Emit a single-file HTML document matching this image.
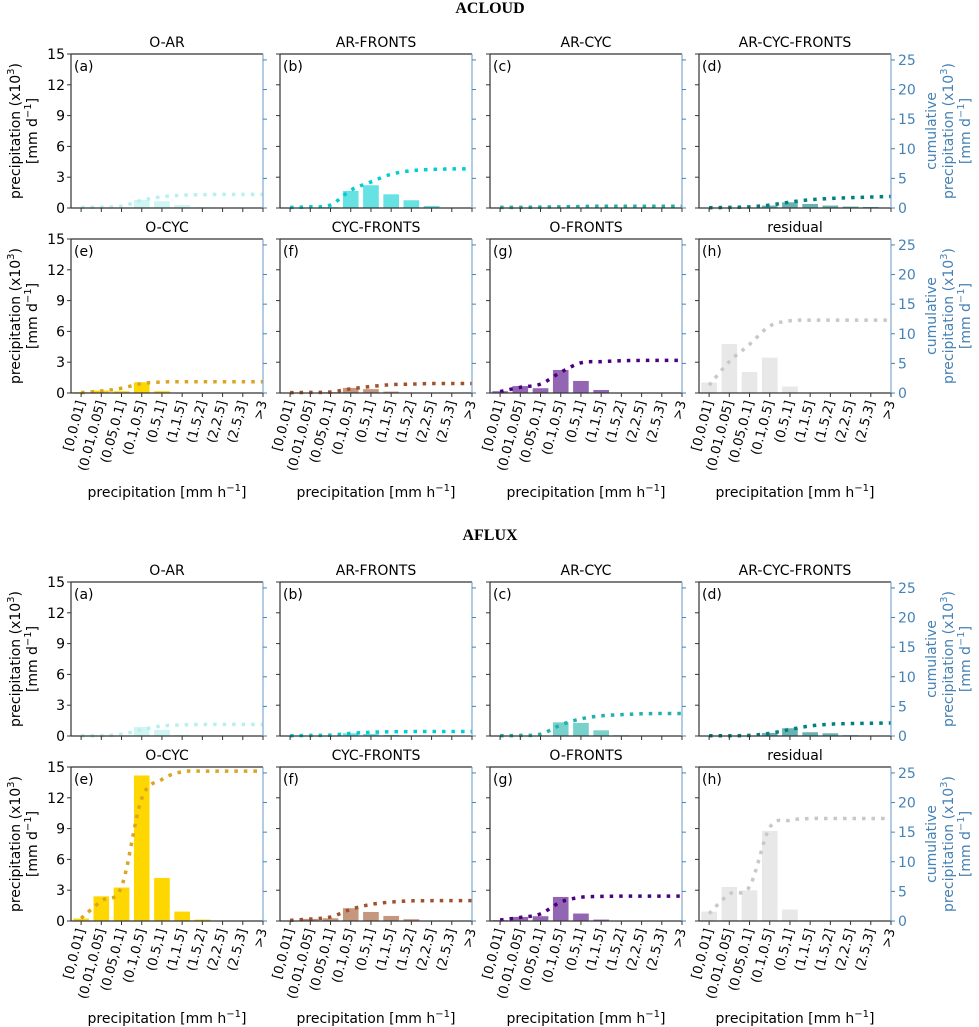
<!DOCTYPE html>
<html><head><meta charset="utf-8"><style>
body{margin:0;background:#fff;}
svg{display:block;font-family:"DejaVu Sans","Liberation Sans",sans-serif;}
</style></head><body>
<svg id="fig" width="979" height="1027" viewBox="0 0 979 1027" xmlns="http://www.w3.org/2000/svg"></svg>
<script>
const categories = ["[0,0.01]","(0.01,0.05]","(0.05,0.1]","(0.1,0.5]","(0.5,1]","(1,1.5]","(1.5,2]","(2,2.5]","(2.5,3]",">3"];
const panelTitles = ["O-AR","AR-FRONTS","AR-CYC","AR-CYC-FRONTS","O-CYC","CYC-FRONTS","O-FRONTS","residual"];
const panelLetters = ["(a)","(b)","(c)","(d)","(e)","(f)","(g)","(h)"];
const leftTicks = [0,3,6,9,12,15];
const rightTicks = [0,5,10,15,20,25];
const barColors = ["#cff5f5","#66e2e3","#79d1cc","#66b3b3","#ffd700","#c6977f","#9366b4","#e8e8e8"];
const lineColors = ["#b8f0f0","#00ced1","#20b2aa","#008080","#daa520","#a0522d","#4b0082","#c8c8c8"];
// ACLOUD bars (left axis, x10^3 mm/d)
const acloudBars = [
 [0.02,0.03,0.05,0.81,0.68,0.32,0.1,0,0,0],
 [0.01,0.02,0.1,1.69,2.24,1.36,0.78,0.23,0,0],
 [0.01,0.01,0.02,0.04,0.04,0.03,0.01,0,0,0],
 [0,0.01,0.03,0.26,0.58,0.42,0.26,0.16,0.13,0.05],
 [0.1,0.26,0.2,1.07,0.2,0.02,0,0,0,0],
 [0.02,0.05,0.1,0.52,0.4,0.16,0.07,0.03,0,0],
 [0.2,0.7,0.49,2.27,1.2,0.32,0.03,0,0,0],
 [1.04,4.8,2.08,3.47,0.65,0,0,0,0,0]
];
// ACLOUD cumulative (right axis)
const acloudCum = [
 [0.1,0.15,0.3,1.3,1.9,2.15,2.25,2.3,2.3,2.3],
 [0.1,0.2,0.5,3.0,4.4,5.7,6.3,6.5,6.6,6.6],
 [0.1,0.1,0.15,0.2,0.25,0.3,0.3,0.3,0.3,0.3],
 [0.05,0.1,0.2,0.5,1.0,1.4,1.6,1.75,1.85,1.95],
 [0.06,0.34,0.8,1.6,1.86,1.9,1.9,1.9,1.9,1.9],
 [0.06,0.1,0.17,0.7,1.1,1.4,1.5,1.6,1.6,1.6],
 [0.23,0.96,1.5,3.5,5.1,5.3,5.45,5.5,5.5,5.5],
 [1.3,5.3,8.2,11.3,12.2,12.3,12.3,12.3,12.3,12.3]
];
// AFLUX bars
const afluxBars = [
 [0.02,0.03,0.05,0.9,0.62,0.13,0.02,0,0,0],
 [0.01,0.02,0.05,0.29,0.23,0.13,0.02,0,0,0],
 [0.01,0.02,0.05,1.36,1.3,0.58,0.1,0,0,0],
 [0,0.01,0.03,0.32,0.78,0.39,0.29,0.1,0,0],
 [0.26,2.43,3.28,14.2,4.22,0.94,0.16,0,0,0],
 [0.03,0.23,0.29,1.27,0.91,0.52,0.2,0.05,0,0],
 [0.1,0.42,0.49,2.37,0.75,0.16,0.02,0,0,0],
 [0.94,3.34,3.02,8.8,1.14,0.1,0,0,0,0]
];
// AFLUX cumulative
const afluxCum = [
 [0.05,0.05,0.3,1.07,1.7,1.86,1.95,1.97,1.97,1.97],
 [0.05,0.1,0.15,0.45,0.62,0.73,0.75,0.75,0.75,0.75],
 [0.05,0.1,0.3,1.86,2.9,3.4,3.6,3.75,3.8,3.8],
 [0.05,0.05,0.1,0.45,1.1,1.7,2.0,2.1,2.15,2.2],
 [0.45,3.4,5.8,20.7,23.9,25.2,25.3,25.3,25.3,25.3],
 [0.1,0.34,0.68,1.97,2.8,3.2,3.4,3.43,3.43,3.43],
 [0.17,0.6,1.2,3.2,4.0,4.15,4.2,4.2,4.2,4.2],
 [1.25,4.55,5.8,15.8,17.0,17.3,17.3,17.3,17.3,17.3]
];

const NS="http://www.w3.org/2000/svg";
const svg=document.getElementById('fig');
function mk(tag,attrs,parent,text){const e=document.createElementNS(NS,tag);for(const k in attrs)e.setAttribute(k,attrs[k]);if(text!==undefined)e.textContent=text;(parent||svg).appendChild(e);return e;}
const colX=[71,280,490,699], W=192, H=154;
const blocks=[{name:"ACLOUD",ty:13,rows:[54,239],bars:acloudBars,cum:acloudCum,xl:497},{name:"AFLUX",ty:540,rows:[582,767],bars:afluxBars,cum:afluxCum,xl:1023}];
const BLUE="#4682b4", RSP="#7fa9cf";

blocks.forEach((b,bi)=>{
  const t=mk('text',{x:490,y:b.ty,'text-anchor':'middle','font-family':'"Liberation Serif",serif','font-weight':'bold','font-size':'16'},svg,b.name);
  
  
  for(let p=0;p<8;p++){
    const r=Math.floor(p/4), c=p%4;
    const x0=colX[c], y0=b.rows[r];
    const g=mk('g',{});
    
    
    const xs=i=>x0+(i+0.5)*W/9.5;
    const yl=v=>y0+H-v/15*H;
    const yr=v=>y0+H-v/26*H;
    const tt=mk('text',{x:x0+W/2,y:y0-7,'text-anchor':'middle','font-size':'14'},g,panelTitles[p]);
    
    
    b.bars[p].forEach((v,i)=>{
      const h=v/15*H;
      const rc=mk('rect',{x:xs(i-0.4),y:yl(v),width:0.8*W/9.5,height:h,fill:barColors[p],stroke:'#fff','stroke-width':0.5},g);
      
      
    });
    const pts=b.cum[p].map((v,i)=>[xs(i),yr(v)]);
    let d='M'+pts[0][0]+','+pts[0][1];
    for(let i=0;i<pts.length-1;i++){
      const p0=pts[Math.max(i-1,0)],p1=pts[i],p2=pts[i+1],p3=pts[Math.min(i+2,pts.length-1)];
      const c1=[p1[0]+(p2[0]-p0[0])/6,p1[1]+(p2[1]-p0[1])/6];
      const c2=[p2[0]-(p3[0]-p1[0])/6,p2[1]-(p3[1]-p1[1])/6];
      d+=' C'+c1[0]+','+c1[1]+' '+c2[0]+','+c2[1]+' '+p2[0]+','+p2[1];
    }
    const ln=mk('path',{d:d,fill:'none',stroke:lineColors[p],'stroke-width':3.5,'stroke-dasharray':'3.5,6'},g);
    
    
    mk('line',{x1:x0,y1:y0,x2:x0+W,y2:y0,stroke:'#333','stroke-width':1.2},g);
    mk('line',{x1:x0,y1:y0+H,x2:x0+W,y2:y0+H,stroke:'#333','stroke-width':1.2},g);
    mk('line',{x1:x0,y1:y0,x2:x0,y2:y0+H,stroke:'#333','stroke-width':1.2},g);
    mk('line',{x1:x0+W,y1:y0,x2:x0+W,y2:y0+H,stroke:RSP,'stroke-width':1.2},g);
    leftTicks.forEach(v=>{
      mk('line',{x1:x0-4,y1:yl(v),x2:x0,y2:yl(v),stroke:'#333','stroke-width':1},g);
      if(c===0){const tl=mk('text',{x:x0-6,y:yl(v)+5,'text-anchor':'end','font-size':'14'},g,String(v));
        
        }
    });
    rightTicks.forEach(v=>{
      mk('line',{x1:x0+W,y1:yr(v),x2:x0+W+4,y2:yr(v),stroke:BLUE,'stroke-width':1},g);
      if(c===3){const tr=mk('text',{x:x0+W+7,y:yr(v)+5,'font-size':'14',fill:BLUE},g,String(v));
        
        }
    });
    categories.forEach((cat,i)=>{
      mk('line',{x1:xs(i),y1:y0+H,x2:xs(i),y2:y0+H+4,stroke:'#333','stroke-width':1},g);
      if(r===1){const xl=mk('text',{x:0,y:0,'text-anchor':'end','font-size':'13','transform':'translate('+(xs(i)+4)+','+(y0+H+9)+') rotate(-75)'},g,cat);
        
        }
    });
    const pl=mk('text',{x:x0+3,y:y0+17,'font-size':'14'},g,panelLetters[p]);
    
    
    if(r===1){const xt=mk('text',{x:x0+W/2,y:b.xl,'text-anchor':'middle','font-size':'14'},g);
      xt.innerHTML='precipitation [mm h<tspan dy="-6" font-size="10">−1</tspan><tspan dy="6">]</tspan>';
      
      }
    if(c===0){const cy=y0+H/2;
      const yt=mk('text',{'text-anchor':'middle','font-size':'14',transform:'translate(20,'+cy+') rotate(-90)'},g);
      yt.innerHTML='<tspan x="0" y="0">precipitation (x10<tspan dy="-6" font-size="10">3</tspan><tspan dy="6">)</tspan></tspan><tspan x="0" y="17">[mm d<tspan dy="-6" font-size="10">−1</tspan><tspan dy="6">]</tspan></tspan>';
      
      }
    if(c===3){const cy=y0+H/2;
      const rt=mk('text',{'text-anchor':'middle','font-size':'14',fill:BLUE,transform:'translate(936,'+cy+') rotate(-90)'},g);
      rt.innerHTML='<tspan x="0" y="0">cumulative</tspan><tspan x="0" y="17">precipitation (x10<tspan dy="-6" font-size="10">3</tspan><tspan dy="6">)</tspan></tspan><tspan x="0" y="34">[mm d<tspan dy="-6" font-size="10">−1</tspan><tspan dy="6">]</tspan></tspan>';
      
      }
  }
});
</script>
</body></html>
